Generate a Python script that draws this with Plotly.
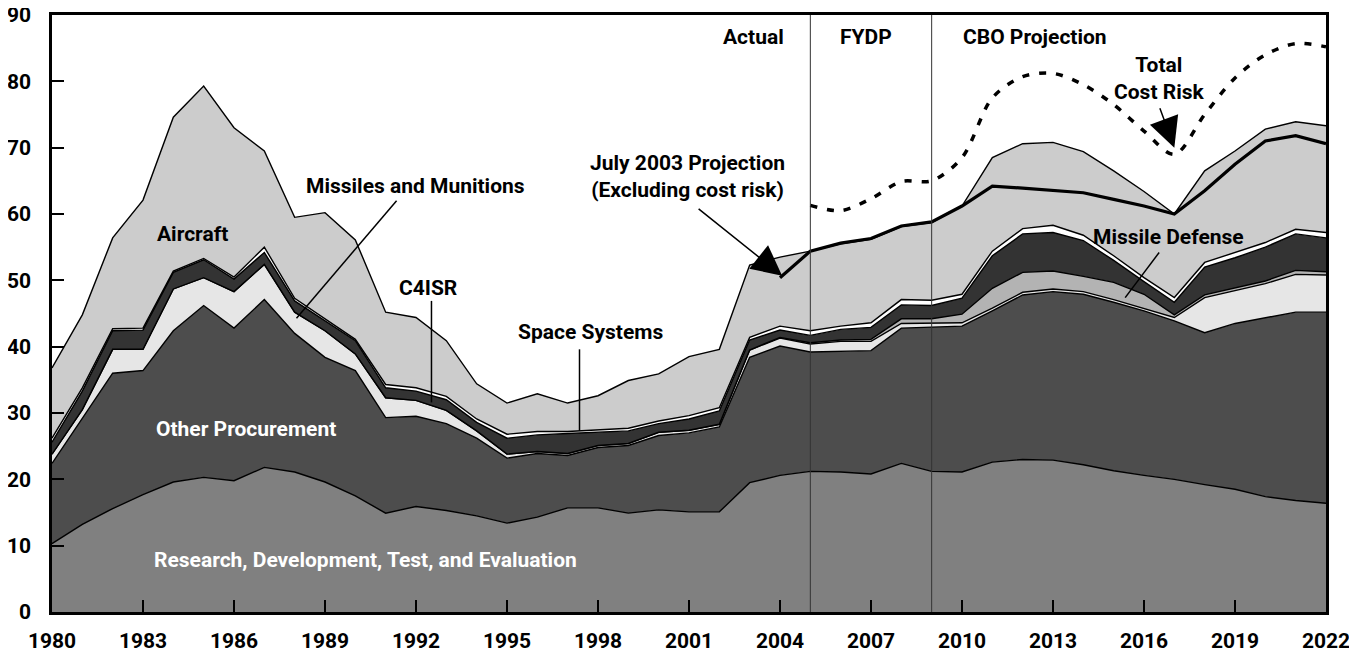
import plotly.graph_objects as go

# Years of the chart
years = list(range(1980, 2023))

# Stacked layers, billions of dollars (per layer)
rdte = [10.3, 13.2, 15.6, 17.7, 19.6, 20.3, 19.8, 21.8, 21.1, 19.6,
        17.5, 14.9, 15.9, 15.3, 14.5, 13.4, 14.3, 15.7, 15.7, 14.9,
        15.4, 15.1, 15.1, 19.5, 20.6, 21.2, 21.1, 20.8, 22.4, 21.2,
        21.1, 22.6, 23.0, 22.9, 22.2, 21.3, 20.6, 20.0, 19.2, 18.5,
        17.4, 16.8, 16.4]
other_proc = [12.1, 15.9, 20.4, 18.7, 22.8, 25.9, 23.0, 25.3, 20.9, 18.8,
              18.9, 14.4, 13.6, 13.1, 11.7, 9.8, 9.6, 7.9, 9.1, 10.2,
              11.2, 11.9, 12.8, 18.9, 19.5, 18.0, 18.2, 18.6, 20.4, 21.7,
              22.0, 22.8, 24.8, 25.4, 25.7, 25.4, 24.8, 23.9, 22.9, 25.0,
              27.0, 28.4, 28.8]
missiles_munitions = [1.4, 1.4, 3.6, 3.2, 6.3, 4.2, 5.5, 5.3, 3.2, 4.0,
                      2.5, 3.0, 2.4, 2.0, 1.1, 0.6, 0.3, 0.3, 0.3, 0.3,
                      0.5, 0.4, 0.4, 1.1, 1.2, 1.2, 1.5, 1.4, 0.7, 0.6,
                      0.5, 0.4, 0.4, 0.4, 0.4, 0.4, 0.4, 0.5, 5.3, 5.0,
                      5.1, 5.7, 5.6]
missile_defense = [0.0, 0.0, 0.0, 0.0, 0.0, 0.0, 0.0, 0.0, 0.0, 0.0,
                   0.0, 0.0, 0.0, 0.0, 0.0, 0.0, 0.0, 0.0, 0.0, 0.0,
                   0.0, 0.0, 0.0, 0.0, 0.1, 0.2, 0.2, 0.3, 0.7, 0.7,
                   1.3, 3.0, 3.0, 2.7, 2.3, 2.6, 2.1, 0.4, 0.4, 0.4,
                   0.4, 0.6, 0.5]
c4isr = [1.8, 2.8, 2.8, 2.9, 2.5, 2.7, 1.9, 1.8, 1.7, 1.5,
         2.0, 1.5, 1.4, 1.6, 1.3, 2.4, 2.5, 3.0, 2.0, 1.9,
         1.3, 1.7, 2.0, 1.5, 1.1, 1.1, 1.6, 1.8, 2.1, 2.0,
         2.4, 4.9, 5.8, 5.8, 5.4, 3.3, 1.9, 1.9, 4.2, 4.5,
         5.1, 5.5, 5.1]
space_systems = [0.6, 0.5, 0.3, 0.3, 0.2, 0.2, 0.3, 0.8, 0.4, 0.3,
                 0.2, 0.5, 0.5, 0.5, 0.5, 0.6, 0.5, 0.3, 0.4, 0.4,
                 0.4, 0.5, 0.5, 0.4, 0.6, 0.7, 0.5, 0.7, 0.8, 0.8,
                 0.6, 0.7, 0.8, 1.1, 0.8, 0.7, 0.6, 0.7, 0.7, 0.8,
                 0.7, 0.7, 0.8]
aircraft = [10.6, 11.0, 13.7, 19.3, 23.2, 26.0, 22.5, 14.5, 12.2, 16.0,
            15.0, 10.9, 10.6, 8.4, 5.3, 4.7, 5.7, 4.3, 5.1, 7.2,
            7.1, 8.9, 8.8, 10.9, 10.4, 12.0, 12.4, 12.6, 11.0, 11.7,
            13.3, 14.1, 12.8, 12.5, 12.6, 12.8, 13.0, 12.6, 13.8, 15.3,
            17.1, 16.2, 16.1]

# July 2003 projection (excluding cost risk), total
proj_years = list(range(2004, 2023))
proj_total = [50.4, 54.4, 55.6, 56.3, 58.2, 58.8, 61.2, 64.2, 63.9, 63.5,
              63.2, 62.2, 61.2, 60.0, 63.5, 67.5, 71.0, 71.8, 70.6]

# Total including cost risk
risk_years = list(range(2005, 2023))
risk_total = [61.3, 60.5, 62.3, 64.9, 65.0, 68.5, 77.5, 80.7, 81.2, 79.5,
              76.5, 72.5, 69.0, 75.0, 80.5, 84.0, 85.7, 85.2]

x_ticks = list(range(1980, 2023, 3))
y_ticks = list(range(0, 91, 10))

FONT = "Roboto, Liberation Sans, sans-serif"
LABEL_SIZE = 21

layers = [
    ("Research, Development, Test, and Evaluation", rdte, "#808080"),
    ("Other Procurement", other_proc, "#4d4d4d"),
    ("Missiles and Munitions", missiles_munitions, "#e6e6e6"),
    ("Missile Defense", missile_defense, "#b3b3b3"),
    ("C4ISR", c4isr, "#333333"),
    ("Space Systems", space_systems, "#ffffff"),
    ("Aircraft", aircraft, "#cccccc"),
]

fig = go.Figure()

for name, vals, color in layers:
    fig.add_trace(go.Scatter(
        x=years, y=vals, name=name, stackgroup="procurement",
        mode="lines", line=dict(color="black", width=1.4),
        fillcolor=color, hoverinfo="x+y+name",
    ))

fig.add_trace(go.Scatter(
    x=proj_years, y=proj_total, mode="lines", name="July 2003 Projection",
    line=dict(color="black", width=3.2),
))
fig.add_trace(go.Scatter(
    x=risk_years, y=risk_total, mode="lines", name="Total Cost Risk",
    line=dict(color="black", width=3.5, dash="7px,10px", shape="spline", smoothing=0.9),
))

# period dividers
for yr in (2005, 2009):
    fig.add_shape(type="line", xref="x", yref="paper", x0=yr, x1=yr, y0=0, y1=1,
                  line=dict(color="#333333", width=1), layer="above")

# leader lines
leaders = [
    (1991.36, 62.0, 1988.06, 44.3),   # missiles and munitions
    (1992.51, 46.9, 1992.51, 31.6),   # C4ISR
    (1997.39, 39.6, 1997.39, 27.3),   # space systems
    (2016.50, 54.2, 2015.38, 47.4),   # missile defense
]
for x0, y0, x1, y1 in leaders:
    fig.add_shape(type="line", xref="x", yref="y", x0=x0, y0=y0, x1=x1, y1=y1,
                  line=dict(color="black", width=1.5), layer="above")

labels = [
    ("Aircraft", 1984.62, 57.0, "black"),
    ("Missiles and Munitions", 1991.98, 64.2, "black"),
    ("C4ISR", 1992.38, 48.9, "black"),
    ("Space Systems", 1997.76, 42.2, "black"),
    ("July 2003 Projection<br>(Excluding cost risk)", 2000.96, 65.7, "black"),
    ("Actual", 2003.11, 86.7, "black"),
    ("FYDP", 2006.84, 86.7, "black"),
    ("CBO Projection", 2012.39, 86.7, "black"),
    ("Total<br>Cost Risk", 2016.51, 80.5, "black"),
    ("Missile Defense", 2016.81, 56.5, "black"),
    ("Other Procurement", 1986.40, 27.6, "white"),
    ("Research, Development, Test, and Evaluation", 1990.33, 7.8, "white"),
]
for text, lx, ly, col in labels:
    fig.add_annotation(x=lx, y=ly, text=text, showarrow=False,
                       font=dict(family=FONT, size=LABEL_SIZE, color=col, weight="bold"),
                       xanchor="center", yanchor="middle", align="center")

# arrows with heads
fig.add_annotation(x=2004.07, y=50.7, ax=-85, ay=-68, text="", showarrow=True,
                   arrowhead=2, arrowsize=4, arrowwidth=1.5, arrowcolor="black")
fig.add_annotation(x=2017.0, y=70.0, ax=-15, ay=-41, text="", showarrow=True,
                   arrowhead=2, arrowsize=4, arrowwidth=1.5, arrowcolor="black")

fig.update_layout(
    width=1357, height=655,
    margin=dict(l=44, r=39, t=7, b=51),
    paper_bgcolor="white", plot_bgcolor="white",
    showlegend=False,
    font=dict(family=FONT, size=21, color="black"),
)
fig.update_xaxes(
    range=[1980, 2022], tickvals=x_ticks, ticks="inside", ticklen=12,
    tickwidth=1.5, tickcolor="black", showline=True, linecolor="black",
    linewidth=2.5, mirror=True, showgrid=False, zeroline=False,
    tickfont=dict(family=FONT, size=21, color="black", weight="bold"),
    ticklabelstandoff=8, ticklabeloverflow="allow", automargin=False,
)
fig.update_yaxes(
    range=[0, 90], tickvals=y_ticks, ticks="inside", ticklen=12,
    tickwidth=1.5, tickcolor="black", showline=True, linecolor="black",
    linewidth=2.5, mirror=True, showgrid=False, zeroline=False,
    tickfont=dict(family=FONT, size=21, color="black", weight="bold"),
    ticklabelstandoff=14, ticklabeloverflow="allow", automargin=False,
)

fig.write_html("out.html")
